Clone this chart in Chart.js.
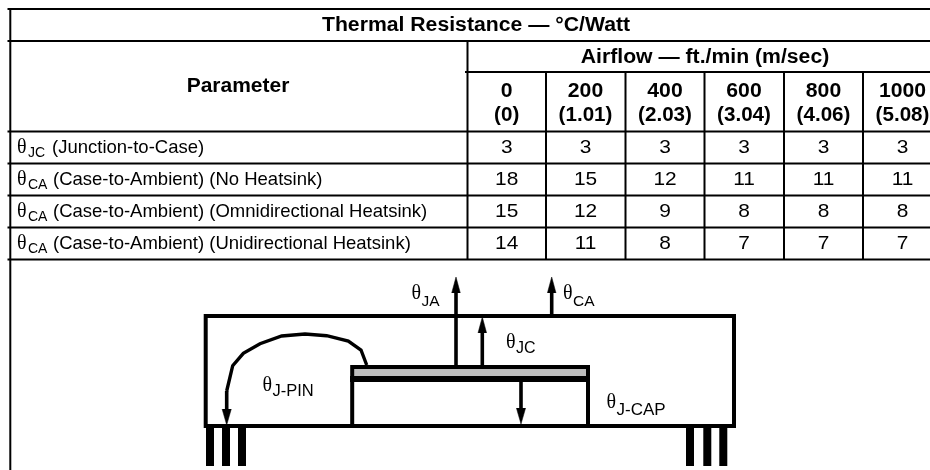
<!DOCTYPE html>
<html>
<head>
<meta charset="utf-8">
<title>Thermal Resistance</title>
<script src="https://cdn.jsdelivr.net/npm/chart.js@4"></script>
<style>
  html, body { margin: 0; padding: 0; background: #fff; }
  canvas { display: block; }
</style>
</head>
<body>
<canvas id="thermal-chart" width="930" height="470"></canvas>
<script>
// table content
const tableTitle = 'Thermal Resistance — °C/Watt';
const parameterHeader = 'Parameter';
const airflowHeader = 'Airflow — ft./min (m/sec)';
const airflowFtMin = ['0', '200', '400', '600', '800', '1000'];
const airflowMSec = ['(0)', '(1.01)', '(2.03)', '(3.04)', '(4.06)', '(5.08)'];
const rowSubscripts = ['JC', 'CA', 'CA', 'CA'];
const rowNames = [
    '(Junction-to-Case)',
    '(Case-to-Ambient) (No Heatsink)',
    '(Case-to-Ambient) (Omnidirectional Heatsink)',
    '(Case-to-Ambient) (Unidirectional Heatsink)'
];
const junctionToCase = [3, 3, 3, 3, 3, 3];
const noHeatsink = [18, 15, 12, 11, 11, 11];
const omniHeatsink = [15, 12, 9, 8, 8, 8];
const uniHeatsink = [14, 11, 8, 7, 7, 7];
const diagramSubscripts = ['JA', 'CA', 'JC', 'J-PIN', 'J-CAP'];

// layout, all in the 930x470 data space of the two axes
const columnEdges = [467.5, 546, 625.5, 704.5, 784, 863];
const columnCentres = [506.7, 585.5, 665, 744, 823.5, 902.5];
const rowBaselines = [153, 185, 217, 249];
const rowEdges = [131.5, 163.5, 195.5, 227.5, 259.5];
const diagramLabelX = [411.5, 563, 506, 262.5, 606.5];
const diagramLabelY = [299, 299, 347.5, 391, 408];
const subBaselineDrop = [7, 7, 5, 5, 7];
const subFontSize = [15.5, 15.5, 16, 16.5, 17];

const FONT = '"Liberation Sans", Arial, sans-serif';
const BLACK = '#000000';

function line(points, width, color) {
    return {
        data: points.map(p => ({ x: p[0], y: p[1] })),
        showLine: true,
        borderColor: color || BLACK,
        borderWidth: width,
        pointRadius: 0,
        fill: false,
        tension: 0,
        borderCapStyle: 'butt',
        borderJoinStyle: 'miter'
    };
}

function head(points) {
    return {
        data: points.map(p => ({ x: p[0], y: p[1] })),
        showLine: true,
        borderColor: BLACK,
        borderWidth: 0.5,
        backgroundColor: BLACK,
        pointRadius: 0,
        fill: 'shape',
        tension: 0
    };
}

function upArrow(x, tail, tip) {
    return [line([[x, tail], [x, tip + 10]], 3.6), head([[x - 4.3, tip + 16], [x, tip], [x + 4.3, tip + 16]])];
}

function downArrow(x, tail, tip) {
    return [line([[x, tail], [x, tip - 10]], 3.6), head([[x - 4.6, tip - 16], [x, tip], [x + 4.6, tip - 16]])];
}

function grid() {
    const sets = [
        line([[7.5, 9], [930, 9]], 2),
        line([[7.5, 41], [930, 41]], 2),
        line([[465, 72], [930, 72]], 2),
        line([[10.3, 8], [10.3, 470]], 2)
    ];
    rowEdges.forEach(y => sets.push(line([[7.5, y], [930, y]], 2)));
    sets.push(line([[467.5, 41], [467.5, 259.5]], 2));
    columnEdges.slice(1).forEach(x => sets.push(line([[x, 72], [x, 259.5]], 2)));
    return sets;
}

function diagram() {
    return [
        // package outline
        line([[400, 316], [734, 316], [734, 426], [205.7, 426], [205.7, 316], [400, 316]], 4),
        // die
        line([[352.2, 426], [352.2, 367], [588, 367], [588, 426]], 4),
        line([[354, 372.5], [586, 372.5]], 7, '#bdbdbd'),
        line([[350, 379], [590, 379]], 6),
        // wire curve to the pin
        line([[366.7, 365], [361, 350], [348.3, 341], [326.7, 335.7], [305, 334], [281.7, 336], [260, 343.7], [243.3, 353.3], [232.7, 365.7], [226.7, 391]], 3.4),
        ...downArrow(226.7, 391, 425),
        ...upArrow(456, 365, 277),
        ...upArrow(551.7, 316, 277),
        ...upArrow(482.3, 365, 317),
        ...downArrow(521, 381, 424),
        // left pins
        line([[210, 428], [210, 466]], 8),
        line([[226, 428], [226, 466]], 8),
        line([[242, 428], [242, 466]], 8),
        // right pins
        line([[690, 428], [690, 466]], 8),
        line([[707.3, 428], [707.3, 466]], 8),
        line([[707.8, 428], [707.8, 461]], 1, '#ffffff'),
        line([[723.3, 428], [723.3, 466]], 8),
        line([[723.8, 428], [723.8, 461]], 1, '#ffffff')
    ];
}

// stretch widens the glyphs a little, the scan of the table is wider than tall
function label(chart, text, x, y, font, align, stretch) {
    const ctx = chart.ctx;
    ctx.save();
    ctx.translate(chart.scales.x.getPixelForValue(x), chart.scales.y.getPixelForValue(y));
    ctx.scale(stretch || 1, 1);
    ctx.font = font;
    ctx.textAlign = align || 'left';
    ctx.textBaseline = 'alphabetic';
    ctx.fillStyle = BLACK;
    ctx.fillText(text, 0, 0);
    ctx.restore();
}

function theta(chart, x, y, sub, dropY, size) {
    label(chart, 'θ', x, y, '20px "Liberation Serif", serif');
    label(chart, sub, x + (size === 14 ? 11 : 10), y + dropY, size + 'px ' + FONT);
}

const tableText = {
    id: 'tableText',
    afterDatasetsDraw(chart) {
        const bold = 'bold 20px ' + FONT;
        const plain = '19px ' + FONT;
        label(chart, tableTitle, 476, 31, bold, 'center', 1.06);
        label(chart, parameterHeader, 238, 92, bold, 'center', 1.05);
        label(chart, airflowHeader, 705, 63, bold, 'center', 1.06);
        columnCentres.forEach((x, i) => {
            label(chart, airflowFtMin[i], x, 96.5, bold, 'center', 1.06);
            label(chart, airflowMSec[i], x, 120.5, bold, 'center', 1.03);
        });
        const rows = [junctionToCase, noHeatsink, omniHeatsink, uniHeatsink];
        rows.forEach((values, r) => {
            const y = rowBaselines[r];
            theta(chart, 17, y, rowSubscripts[r], 4, 14);
            label(chart, rowNames[r], rowSubscripts[r] === 'JC' ? 52 : 53, y, '18.5px ' + FONT);
            values.forEach((v, c) => label(chart, String(v), columnCentres[c], y, plain, 'center', 1.1));
        });
        diagramSubscripts.forEach((sub, i) => {
            theta(chart, diagramLabelX[i], diagramLabelY[i], sub, subBaselineDrop[i], subFontSize[i]);
        });
    }
};

const thermalChart = new Chart(document.getElementById('thermal-chart').getContext('2d'), {
    type: 'scatter',
    data: { datasets: [...grid(), ...diagram()] },
    options: {
        responsive: false,
        animation: false,
        layout: { padding: 0 },
        plugins: {
            legend: { display: false },
            title: { display: false },
            tooltip: { enabled: false }
        },
        scales: {
            x: { type: 'linear', min: 0, max: 930, display: false },
            y: { type: 'linear', min: 0, max: 470, reverse: true, display: false }
        }
    },
    plugins: [tableText]
});
</script>
</body>
</html>
